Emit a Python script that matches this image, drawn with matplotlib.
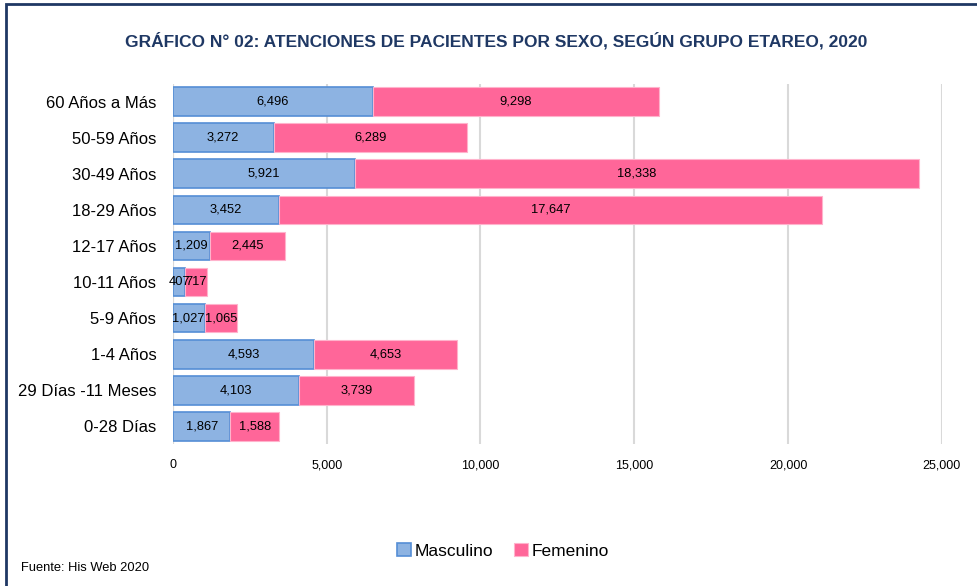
import matplotlib
matplotlib.use("Agg")
import matplotlib.pyplot as plt
from matplotlib.patches import Rectangle
from matplotlib.ticker import FuncFormatter

categories = ["60 Años a Más", "50-59 Años", "30-49 Años", "18-29 Años", "12-17 Años",
              "10-11 Años", "5-9 Años", "1-4 Años", "29 Días -11 Meses", "0-28 Días"]
masculino = [6496, 3272, 5921, 3452, 1209, 407, 1027, 4593, 4103, 1867]
femenino = [9298, 6289, 18338, 17647, 2445, 717, 1065, 4653, 3739, 1588]
xticks = [0, 5000, 10000, 15000, 20000, 25000]

narrow = ['Liberation Sans Narrow', 'Liberation Sans', 'DejaVu Sans']
sans = ['Liberation Sans', 'DejaVu Sans']

fig = plt.figure(figsize=(9.77, 5.86), dpi=100)
ax = fig.add_axes([0.177, 0.242, 0.787, 0.615])

y = list(range(len(categories)))
b1 = ax.barh(y, masculino, height=0.8, color='#8DB3E2', edgecolor='#558ED5', linewidth=1.2, label='Masculino', zorder=3)
b2 = ax.barh(y, femenino, left=masculino, height=0.8, color='#FF6699', edgecolor='#FFB3CC', linewidth=0.8, label='Femenino', zorder=3)

for i in y:
    ax.text(masculino[i] / 2, i, f"{masculino[i]:,}", ha='center', va='center', fontsize=9.3, family=sans, zorder=4)
    ax.text(masculino[i] + femenino[i] / 2, i, f"{femenino[i]:,}", ha='center', va='center', fontsize=9.3, family=sans, zorder=4)

ax.set_ylim(len(categories) - 0.5, -0.5)
ax.set_xlim(0, 25000)
ax.set_xticks(xticks)
ax.xaxis.set_major_formatter(FuncFormatter(lambda v, p: f"{int(v):,}"))
ax.set_yticks(y)
ax.set_yticklabels(categories, family=narrow, fontsize=12)
for lab in ax.get_xticklabels():
    lab.set_family(sans)
    lab.set_fontsize(9)
ax.tick_params(axis='both', length=0)
ax.tick_params(axis='x', pad=11)
ax.tick_params(axis='y', pad=12)
ax.grid(axis='x', color='#D9D9D9', linewidth=1.5, zorder=0)
for s in ax.spines.values():
    s.set_visible(False)
ax.axvline(0, color='#D9D9D9', linewidth=1.5, zorder=1)

fig.text(0.508, 0.930, "GRÁFICO N° 02: ATENCIONES DE PACIENTES POR SEXO, SEGÚN GRUPO ETAREO, 2020",
         ha='center', va='center', fontsize=12.5, fontweight='bold', color='#1F3864', family=narrow)

leg = fig.legend(handles=[b1, b2], labels=['Masculino', 'Femenino'], loc='center', bbox_to_anchor=(0.515, 0.06),
                 ncol=2, frameon=False, prop={'family': narrow, 'size': 12.5},
                 handlelength=0.8, handleheight=0.8, handletextpad=0.2, columnspacing=1.2)

fig.text(0.022, 0.030, "Fuente: His Web 2020", ha='left', va='center', fontsize=9.3, family=narrow)

fig.patches.append(Rectangle((0.006, -0.1), 1.2, 1.094, transform=fig.transFigure, fill=False,
                             edgecolor='#1F3864', linewidth=2))

fig.savefig("out.png", dpi=100)
